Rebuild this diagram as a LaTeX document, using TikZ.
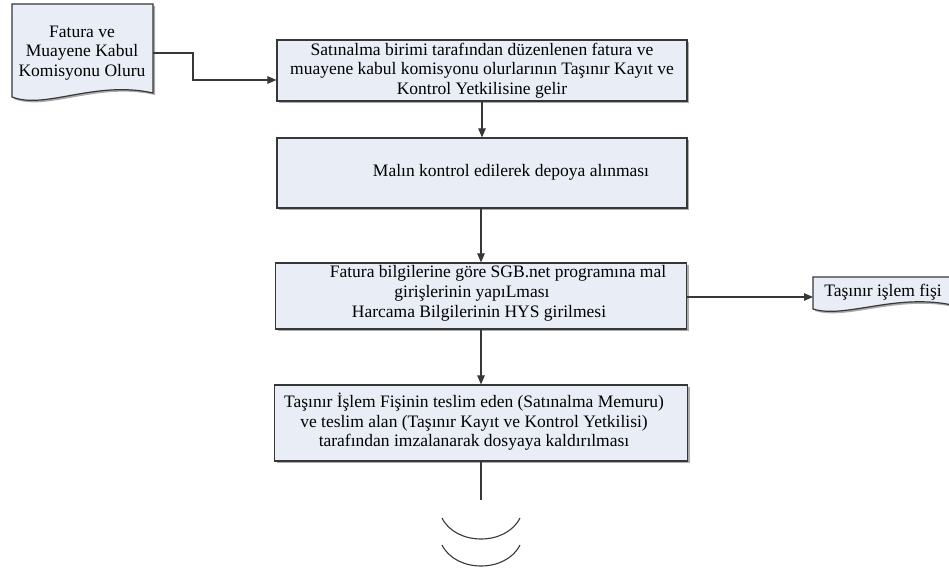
\documentclass[tikz,border=0pt]{standalone}
\usepackage{fontspec}
\setmainfont{Liberation Serif}
\newfontfamily\flowfont{Liberation Serif}
\usetikzlibrary{arrows.meta,shadows}
\definecolor{boxfill}{RGB}{232,237,246}
\definecolor{boxline}{RGB}{55,55,55}
\definecolor{shade}{RGB}{150,150,150}
\tikzset{
  txt/.style={font=\flowfont\fontsize{17.5}{19.5}\selectfont, text=black, inner sep=0pt, align=center},
  procbox/.style={draw=boxline, line width=1.2pt, fill=boxfill, inner sep=0pt,
    drop shadow={shadow xshift=2pt, shadow yshift=-2pt, fill=shade, opacity=0.8}},
  docshape/.style={draw=boxline, line width=1.2pt, fill=boxfill},
  docshadow/.style={fill=shade, opacity=0.8},
  link/.style={draw=boxline, line width=1.1pt},
  arr/.style={link, -{Triangle[length=9pt,width=7.5pt]}}
}
\begin{document}
\begin{tikzpicture}[x=1pt,y=-1pt]
\useasboundingbox (0,0) rectangle (949,577);

% process boxes
\node[procbox, minimum width=410pt, minimum height=61pt, txt] (box1) at (482,70.5)
  {Satınalma birimi tarafından düzenlenen fatura ve\\muayene kabul komisyonu olurlarının Taşınır Kayıt ve\\Kontrol Yetkilisine gelir};
\node[procbox, minimum width=410pt, minimum height=70pt] (box2) at (482,173) {};
\node[txt] (box2text) at (511,172) {Malın kontrol edilerek depoya alınması};
\node[procbox, minimum width=411pt, minimum height=66pt] (box3) at (481,296) {};
\node[txt] (box3a) at (498,273) {Fatura bilgilerine göre SGB.net programına mal};
\node[txt] (box3b) at (472,293) {girişlerinin yapıLması};
\node[txt] (box3c) at (479,313) {Harcama Bilgilerinin HYS girilmesi};
\node[procbox, minimum width=413pt, minimum height=76pt] (box4) at (481,423) {};
\node[txt] (box4text) at (474,422)
  {Taşınır İşlem Fişinin teslim eden (Satınalma Memuru)\\ve teslim alan (Taşınır Kayıt ve Kontrol Yetkilisi)\\tarafından imzalanarak dosyaya kaldırılması};

% document shape: invoice and inspection approval
\fill[docshadow, shift={(2,2)}] (12,4) -- (153,4) -- (153,93)
  .. controls (95,80) and (45,110) .. (12,97) -- cycle;
\path[docshape] (12,4) -- (153,4) -- (153,93)
  .. controls (95,80) and (45,110) .. (12,97) -- cycle;
\node[txt] (doc1) at (82,53) {Fatura ve\\Muayene Kabul\\Komisyonu Oluru};
\coordinate (doc1out) at (153,53);

% document shape: movable goods slip
\fill[docshadow, shift={(2,2)}] (813,277) -- (952,277) -- (952,305)
  .. controls (895,293) and (845,319) .. (813,309) -- cycle;
\path[docshape] (813,277) -- (952,277) -- (952,305)
  .. controls (895,293) and (845,319) .. (813,309) -- cycle;
\node[txt] (doc2) at (883,292) {Taşınır işlem fişi};
\coordinate (doc2in) at (813,297);

% connectors
\draw[arr] (doc1out) -- (193,53) |- ([yshift=-9.5pt]box1.west);
\draw[arr] (box1.south) -- (box2.north);
\draw[arr] (box2.south -| box3.north) -- (box3.north);
\draw[arr] (box3.south -| box4.north) -- (box4.north);
\draw[arr] (box3.east |- doc2in) -- (doc2in);
\coordinate (flowend) at (481,500);
\draw[link] (box4.south) -- (flowend);

% off-page continuation mark
\draw[link] (442,518) .. controls (456,546) and (506,546) .. (520,518);
\draw[link] (442,545) .. controls (456,573) and (506,573) .. (520,545);
\end{tikzpicture}
\end{document}
